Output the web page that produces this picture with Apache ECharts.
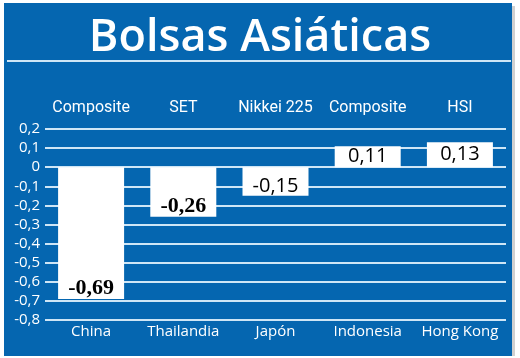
<!DOCTYPE html>
<html><head><meta charset="utf-8">
<script src="https://cdn.jsdelivr.net/npm/echarts@6/dist/echarts.min.js"></script>
<style>html,body{margin:0;padding:0;background:#fff}#c{width:520px;height:358px}</style>
</head><body><div id="c"></div>
<script>
const title = 'Bolsas Asiáticas';
const countries = ['China', 'Thailandia', 'Japón', 'Indonesia', 'Hong Kong'];
const indices = ['Composite', 'SET', 'Nikkei 225', 'Composite', 'HSI'];
const values = [-0.69, -0.26, -0.15, 0.11, 0.13];
const yTicks = [0.2, 0.1, 0, -0.1, -0.2, -0.3, -0.4, -0.5, -0.6, -0.7, -0.8];

const BLUE = '#0566b0';
const LINE = '#cfe6f6';
const chart = echarts.init(document.getElementById('c'), null, {renderer: 'canvas'});
const fmt = v => v.toFixed(2).replace('.', ',');
const serifIdx = [0, 1];
chart.setOption({
  backgroundColor: '#ffffff',
  animation: false,
  title: {
    text: title, left: 'center', top: 11,
    textStyle: {color: '#ffffff', fontFamily: 'Open Sans', fontWeight: 600, fontSize: 45}
  },
  graphic: [
    {type: 'rect', z: -10, silent: true, shape: {x: 4, y: 3, width: 508, height: 353}, style: {fill: BLUE}},
    {type: 'rect', z: -11, silent: true, shape: {x: 512, y: 6, width: 3, height: 350}, style: {fill: '#d0d0d0'}},
    {type: 'line', z: 5, silent: true, shape: {x1: 7, y1: 61, x2: 511, y2: 61}, style: {stroke: LINE, lineWidth: 2}}
  ],
  grid: {left: 45, right: 14, top: 129, bottom: 38},
  xAxis: [
    {
      type: 'category', data: countries, position: 'bottom',
      axisLine: {show: false}, axisTick: {show: false},
      axisLabel: {interval: 0, hideOverlap: false, color: '#ffffff', fontFamily: 'Open Sans', fontSize: 15, margin: 4}
    },
    {
      type: 'category', data: indices, position: 'top',
      axisLine: {show: false}, axisTick: {show: false},
      axisLabel: {interval: 0, hideOverlap: false, color: '#ffffff', fontFamily: 'Roboto', fontSize: 16, margin: 13}
    }
  ],
  yAxis: {
    type: 'value', min: -0.8, max: 0.2, interval: 0.1,
    axisLine: {show: false}, axisTick: {show: false},
    splitLine: {lineStyle: {color: LINE, width: 2}},
    axisLabel: {
      color: '#ffffff', fontFamily: 'Open Sans', fontSize: 15, margin: 5,
      formatter: v => {
        const t = yTicks.find(x => Math.abs(x - v) < 1e-6);
        const r = t === undefined ? v : t;
        return r === 0 ? '0' : r.toFixed(1).replace('.', ',');
      }
    }
  },
  series: [{
    type: 'bar', xAxisIndex: 0, barWidth: 66,
    itemStyle: {color: '#ffffff'},
    data: values.map((v, i) => ({
      value: v,
      label: {
        show: true,
        position: v < 0 ? 'insideBottom' : 'inside',
        distance: 0,
        color: '#000000',
        fontSize: serifIdx.includes(i) ? 22 : 20,
        fontWeight: serifIdx.includes(i) ? 'bold' : 'normal',
        fontFamily: serifIdx.includes(i) ? 'Liberation Serif' : 'Open Sans',
        formatter: () => fmt(v)
      }
    }))
  }]
});
</script></body></html>
